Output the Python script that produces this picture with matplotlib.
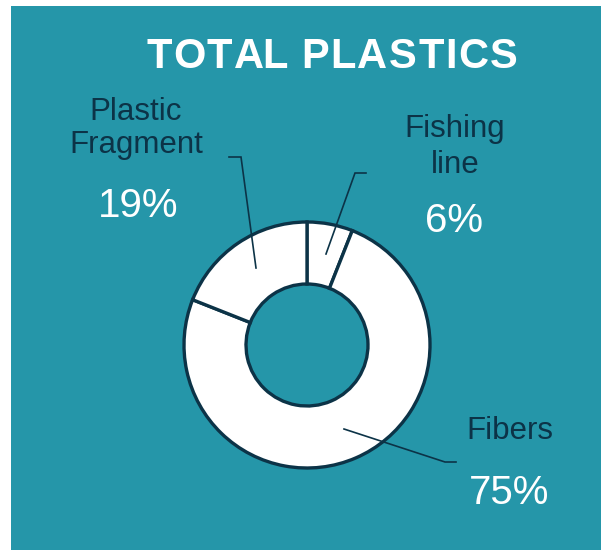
import matplotlib
matplotlib.use('Agg')
import matplotlib.pyplot as plt
from matplotlib.patches import Rectangle
from matplotlib.font_manager import FontProperties

# Data
categories = ['Fishing line', 'Fibers', 'Plastic Fragment']
shares = [6, 75, 19]
label_lines = [['Fishing', 'line'], ['Fibers'], ['Plastic', 'Fragment']]
pct_labels = ['6%', '75%', '19%']
title = 'TOTAL PLASTICS'

W, H = 603, 550
TEAL = '#2596a9'
NAVY = '#0c3347'

plt.rcParams['font.family'] = ['Liberation Sans', 'DejaVu Sans']


def Y(y):
    """Convert pixel row (top down) to data y (bottom up)."""
    return H - y


def spaced_text(ax, renderer, xc, y, s, spacing, **kw):
    """Draw text centred at xc with extra letter spacing (pixels)."""
    prop = FontProperties(family=['Liberation Sans'], size=kw.pop('fontsize'),
                          weight=kw.pop('fontweight', 'normal'))
    def width(t):
        return renderer.get_text_width_height_descent(t, prop, ismath=False)[0] if t else 0
    total = width(s) + spacing * (len(s) - 1)
    x0 = xc - total / 2
    for i, ch in enumerate(s):
        ax.text(x0 + width(s[:i]) + spacing * i, y, ch, ha='left', va='baseline',
                fontproperties=prop, **kw)


fig = plt.figure(figsize=(W / 100, H / 100), dpi=100, facecolor='white')
ax = fig.add_axes([0, 0, 1, 1])

# teal panel
ax.add_patch(Rectangle((11, Y(550)), 590, 544, facecolor=TEAL, edgecolor='none', zorder=0))

# donut
ax.pie(shares, colors=['white'] * len(shares), startangle=90, counterclock=False,
       center=(307, Y(345)), radius=123, frame=True,
       wedgeprops=dict(width=62, edgecolor=NAVY, linewidth=2.4))
ax.set_xlim(0, W)
ax.set_ylim(0, H)
ax.set_aspect('equal')
ax.axis('off')

# leader lines
leaders = [
    [(366, 173), (355, 173), (326, 254)],
    [(456, 462), (445, 462), (344, 429)],
    [(229, 157), (241, 157), (256, 268)],
]
for pts in leaders:
    ax.plot([p[0] for p in pts], [Y(p[1]) for p in pts], color=NAVY, lw=1.2,
            solid_joinstyle='miter', zorder=5)

# labels
name_pos = [(455, [137, 173]), (510, [439]), (136, [120, 153])]
pct_pos = [(454, 232), (509, 504), (138, 217)]
for lines, (x, ys), pct, (px, py) in zip(label_lines, name_pos, pct_labels, pct_pos):
    for line, yb in zip(lines, ys):
        ax.text(x, Y(yb), line, ha='center', va='baseline', fontsize=22.5, color=NAVY)
    ax.text(px, Y(py), pct, ha='center', va='baseline', fontsize=29, color='white')

renderer = fig.canvas.get_renderer()
spaced_text(ax, renderer, 332, Y(68), title, 1.5, fontsize=30,
            fontweight='bold', color='white')

fig.savefig('out.png', dpi=100, facecolor='white')
